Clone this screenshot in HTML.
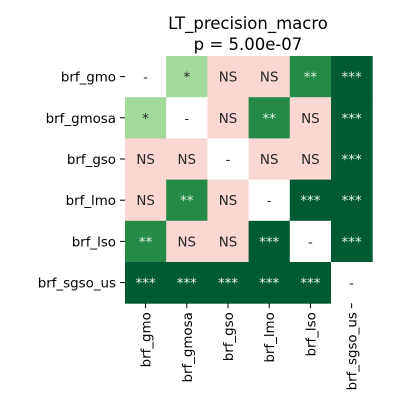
<!DOCTYPE html>
<html><head><meta charset="utf-8"><style>
body{margin:0;background:#fff;}
svg text{font-family:"DejaVu Sans","Liberation Sans",sans-serif;}
</style></head><body>
<svg id="chart" width="406" height="409">
<text x="248" y="29" font-size="16.5" text-anchor="middle" fill="#000">LT_precision_macro</text>
<text x="248" y="50" font-size="16.5" text-anchor="middle" fill="#000">p = 5.00e-07</text>
<g id="cells"></g><g id="labels"></g>
</svg>
<script>
const categories=["brf_gmo","brf_gmosa","brf_gso","brf_lmo","brf_lso","brf_sgso_us"];
const significance=[
["-","*","NS","NS","**","***"],
["*","-","NS","**","NS","***"],
["NS","NS","-","NS","NS","***"],
["NS","**","NS","-","***","***"],
["**","NS","NS","***","-","***"],
["***","***","***","***","***","-"]];
const fills={"-":"#ffffff","NS":"#fbd7d4","*":"#a1da9b","**":"#238b45","***":"#005a32"};
const textCol={"-":"#262626","NS":"#262626","*":"#262626","**":"#e0f0e0","***":"#e8f4e8"};
const x0=125,y0=56,cw=41.2,ch=41.2;
const xs=i=>x0+i*cw, ys=j=>y0+j*ch;
const NS="http://www.w3.org/2000/svg";
const cg=document.getElementById('cells'), lg=document.getElementById('labels');
significance.forEach((row,j)=>row.forEach((v,i)=>{
 const r=document.createElementNS(NS,'rect');
 r.setAttribute('x',xs(i));r.setAttribute('y',ys(j));r.setAttribute('width',cw+0.5);r.setAttribute('height',ch+0.5);r.setAttribute('fill',fills[v]);
 
 
 cg.appendChild(r);
 const t=document.createElementNS(NS,'text');
 t.setAttribute('x',xs(i)+cw/2);t.setAttribute('y',ys(j)+ch/2+5);t.setAttribute('text-anchor','middle');t.setAttribute('font-size','13.4');t.setAttribute('fill',textCol[v]);
 t.textContent=v;
 
 
 cg.appendChild(t);
}));
categories.forEach((c,k)=>{
 const t=document.createElementNS(NS,'text');
 t.setAttribute('x',x0-9);t.setAttribute('y',ys(k)+ch/2+5);t.setAttribute('text-anchor','end');t.setAttribute('font-size','13.4');
 t.textContent=c;
 
 
 lg.appendChild(t);
 const l=document.createElementNS(NS,'line');
 l.setAttribute('x1',x0-5);l.setAttribute('x2',x0);l.setAttribute('y1',ys(k)+ch/2);l.setAttribute('y2',ys(k)+ch/2);l.setAttribute('stroke','#000');
 
 
 lg.appendChild(l);
 const cx=xs(k)+cw/2;
 const l2=document.createElementNS(NS,'line');
 l2.setAttribute('x1',cx);l2.setAttribute('x2',cx);l2.setAttribute('y1',y0+6*ch);l2.setAttribute('y2',y0+6*ch+5);l2.setAttribute('stroke','#000');
 
 
 lg.appendChild(l2);
 const t2=document.createElementNS(NS,'text');
 t2.setAttribute('transform','translate('+(cx+5)+','+(y0+6*ch+9)+') rotate(-90)');
 t2.setAttribute('text-anchor','end');t2.setAttribute('font-size','13.4');
 t2.textContent=c;
 
 
 lg.appendChild(t2);
});
</script>
</body></html>
